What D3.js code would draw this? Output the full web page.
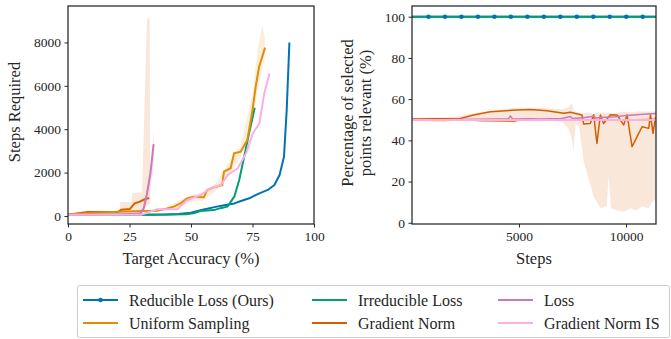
<!DOCTYPE html>
<html>
<head>
<meta charset="utf-8">
<script src="https://cdn.jsdelivr.net/npm/d3@7"></script>
<style>
  body { margin: 0; background: #fff; }
</style>
</head>
<body>
<script>
const width = 671, height = 339;
const serif = '"Liberation Serif", "Times New Roman", Tinos, serif';

// ---- left panel: steps required to reach a target accuracy ----
const reducibleAcc   = [0, 10, 20, 30, 40, 45, 49.9, 55.2, 60, 63, 67.6, 70, 73.7, 77.8, 81.2, 83.9, 86, 87.8, 88.9, 90];
const reducibleSteps = [60, 60, 60, 60, 70, 90, 152, 300, 420, 480, 580, 680, 815, 1045, 1200, 1430, 1890, 2730, 4880, 8000];

const irreducibleAcc   = [0, 10, 20, 30, 40, 48, 51, 53.8, 59.3, 62, 64.8, 67.6, 69.6, 71.6, 73.6, 75.9];
const irreducibleSteps = [60, 60, 60, 60, 70, 80, 120, 230, 270, 360, 430, 890, 1660, 2730, 3810, 4990];

const uniformAcc   = [0, 8, 20, 30, 36.2, 40, 43, 45.7, 48.5, 51.2, 55.2, 56.6, 59.3, 62.7, 63.4, 66.1, 67.5, 70.2, 72.9, 75, 76.3, 77.7, 80.1];
const uniformSteps = [60, 120, 200, 230, 245, 330, 430, 584, 815, 890, 860, 1200, 1320, 1430, 2040, 2200, 2890, 2960, 3500, 4880, 5960, 6880, 7760];

const gradNormAcc   = [0, 8, 20.3, 21.7, 25.1, 27.1, 29.2, 31.2, 33];
const gradNormSteps = [60, 184, 184, 290, 320, 580, 660, 770, 830];
const gradNormBandAcc   = [21, 21.3, 25.8, 26.2, 30.1, 32.1, 33.2, 33.5];
const gradNormBandLow   = [100, 120, 150, 200, 300, 450, 550, 600];
const gradNormBandHigh  = [300, 650, 650, 1070, 1070, 9100, 9100, 800];

const lossAcc   = [0, 10, 20, 29.4, 30.8, 32.1, 33.5, 34.8];
const lossSteps = [60, 60, 60, 123, 350, 1040, 1960, 3310];
const lossBandAcc  = [29.5, 31, 32.5, 34, 35];
const lossBandLow  = [80, 250, 800, 1600, 2600];
const lossBandHigh = [200, 500, 1400, 2600, 4000];

const gnisAcc   = [0, 10, 20, 30, 36.2, 44.4, 48.5, 53.9, 58, 62.1, 64.9, 69, 72.4, 75.1, 77.8, 79.8, 81.9];
const gnisSteps = [60, 60, 60, 60, 307, 307, 737, 967, 1280, 1430, 1890, 2200, 2890, 3810, 4270, 5650, 6570];

const uniformBandAcc  = [40, 45, 50, 55, 60, 65, 70, 75, 77, 79, 80];
const uniformBandLow  = [250, 400, 650, 700, 1150, 1800, 2700, 4300, 5800, 6800, 7300];
const uniformBandHigh = [400, 700, 950, 1100, 1500, 2400, 3200, 5600, 7600, 8800, 8200];

// ---- right panel: percentage of selected points that are relevant ----
const markerSteps = [770, 1540, 2310, 3080, 3850, 4620, 5390, 6160, 6930, 7700, 8470, 9240, 10010, 10780];
const fullSteps = [0, 11400];
const fullPct   = [100, 100];

const uniformRStep = [0, 1500, 2500, 3200, 4800, 5000, 6000, 7000, 8000, 9000, 10000, 11400];
const uniformRPct  = [49.8, 49.6, 50.0, 49.5, 49.2, 49.9, 49.7, 50.0, 49.8, 50.0, 49.9, 50.2];

const lossRStep = [0, 1000, 2000, 3000, 4000, 4500, 4600, 4700, 5500, 6000, 7000, 7400, 7500, 8000, 8500, 8600, 9000, 9500, 10000, 10500, 11000, 11400];
const lossRPct  = [50.0, 49.7, 50.1, 50.2, 50.3, 50.4, 51.8, 50.3, 50.5, 50.4, 50.6, 51.6, 50.6, 51.0, 51.7, 50.8, 51.2, 51.5, 52.0, 52.4, 52.8, 53.0];

const gnisRStep = [0, 11400];
const gnisRPct  = [49.9, 49.9];

const gnRStep = [0, 2260, 2880, 3660, 4900, 5530, 6310, 7090, 7400, 7940, 8020, 8330, 8490, 8640, 8800, 8950, 9270, 9580, 9890, 10050, 10280, 10510, 10750, 11060, 11140, 11260, 11370, 11400];
const gnRPct  = [50.3, 50.6, 52.3, 53.9, 54.7, 55.0, 54.4, 53.1, 53.6, 52.3, 47.9, 48.2, 52.4, 38.5, 52.3, 48.2, 52.4, 52.3, 47.5, 52.3, 36.9, 41.7, 46.6, 45.8, 52.4, 43.4, 50.8, 50.0];
const gnBandStep = [0, 2000, 3000, 5000, 6500, 7000, 7300, 7480, 7540, 7650, 7800, 8020, 8180, 8490, 8800, 9100, 9190, 9300, 9600, 9900, 10200, 10500, 10750, 11050, 11290, 11400];
const gnBandLow  = [49.5, 49.5, 49.5, 49.5, 49.5, 49, 46, 40, 34.5, 48, 47, 30, 24, 12.6, 7, 8, 23, 7, 6, 5.5, 7, 6, 8, 7, 11, 10];
const gnBandHigh = [51, 51.5, 53.5, 56, 55.5, 55, 56, 58, 55, 54, 53.5, 53, 53.5, 53, 53.5, 53, 53.5, 53, 53.5, 54, 53.5, 54, 54, 54, 54, 54];

const colors = {
  reducible: "#0173b2",
  uniform: "#de8f05",
  irreducible: "#029e73",
  gradNorm: "#d55e00",
  loss: "#cc78bc",
  gnis: "#fbafe4"
};

const svg = d3.select("body").append("svg")
  .attr("width", width)
  .attr("height", height)
  .style("font-family", serif);

const frameColor = "#262626";

function drawFrame(g, x0, y0, w, h) {
  g.append("rect")
    .attr("x", x0).attr("y", y0).attr("width", w).attr("height", h)
    .attr("fill", "none").attr("stroke", frameColor).attr("stroke-width", 1.25);
}

function styleAxis(sel) {
  sel.style("font-family", serif).style("font-size", "13.5px");
  sel.selectAll("path").remove();
  sel.selectAll("line").attr("stroke", frameColor).attr("stroke-width", 1);
  sel.selectAll("text").attr("fill", "#262626");
}

// ===== left panel =====
const L = { left: 68, right: 314, top: 6, bottom: 224 };
const xL = d3.scaleLinear().domain([0, 100]).range([L.left, L.right]);
const yL = d3.scaleLinear().domain([-370, 9680]).range([L.bottom, L.top]);

const defs = svg.append("defs");
defs.append("clipPath").attr("id", "clipL").append("rect")
  .attr("x", L.left).attr("y", L.top).attr("width", L.right - L.left).attr("height", L.bottom - L.top);

const gL = svg.append("g").attr("clip-path", "url(#clipL)");

function band(g, xs, lo, hi, xS, yS, color, op) {
  const pts = xs.map((d, i) => ({ x: d, lo: lo[i], hi: hi[i] }));
  g.append("path").datum(pts)
    .attr("d", d3.area().x(d => xS(d.x)).y0(d => yS(d.lo)).y1(d => yS(d.hi)))
    .attr("fill", color).attr("opacity", op).attr("stroke", "none");
}
function line(g, xs, ys, xS, yS, color, w) {
  const pts = xs.map((d, i) => [d, ys[i]]);
  g.append("path").datum(pts)
    .attr("d", d3.line().x(d => xS(d[0])).y(d => yS(d[1])))
    .attr("fill", "none").attr("stroke", color).attr("stroke-width", w)
    .attr("stroke-linejoin", "round").attr("stroke-linecap", "butt");
}

band(gL, gradNormBandAcc, gradNormBandLow, gradNormBandHigh, xL, yL, colors.gradNorm, 0.15);
band(gL, lossBandAcc, lossBandLow, lossBandHigh, xL, yL, colors.loss, 0.18);
band(gL, uniformBandAcc, uniformBandLow, uniformBandHigh, xL, yL, colors.uniform, 0.15);

line(gL, gradNormAcc, gradNormSteps, xL, yL, colors.gradNorm, 2);
line(gL, reducibleAcc, reducibleSteps, xL, yL, colors.reducible, 2);
line(gL, irreducibleAcc, irreducibleSteps, xL, yL, colors.irreducible, 2);
line(gL, uniformAcc, uniformSteps, xL, yL, colors.uniform, 2);
line(gL, lossAcc, lossSteps, xL, yL, colors.loss, 2);
line(gL, gnisAcc, gnisSteps, xL, yL, colors.gnis, 2);

svg.append("g").attr("transform", `translate(0,${L.bottom})`)
  .call(d3.axisBottom(xL).tickValues([0, 25, 50, 75, 100]).tickFormat(d3.format("d")).tickSize(3.5).tickPadding(3.5))
  .call(styleAxis);
svg.append("g").attr("transform", `translate(${L.left},0)`)
  .call(d3.axisLeft(yL).tickValues([0, 2000, 4000, 6000, 8000]).tickFormat(d3.format("d")).tickSize(3.5).tickPadding(3.5))
  .call(styleAxis);
drawFrame(svg, L.left, L.top, L.right - L.left, L.bottom - L.top);

svg.append("text").attr("x", (L.left + L.right) / 2).attr("y", 264)
  .attr("text-anchor", "middle").style("font-size", "16.5px").attr("fill", "#262626").text("Target Accuracy (%)");
svg.append("text").attr("transform", `translate(20,${(L.top + L.bottom) / 2 - 3}) rotate(-90)`)
  .attr("text-anchor", "middle").style("font-size", "16.5px").attr("fill", "#262626").text("Steps Required");

// ===== right panel =====
const R = { left: 412, right: 656, top: 6, bottom: 224 };
const xR = d3.scaleLinear().domain([0, 11400]).range([R.left, R.right]);
const yR = d3.scaleLinear().domain([-0.6, 105.2]).range([R.bottom, R.top]);

defs.append("clipPath").attr("id", "clipR").append("rect")
  .attr("x", R.left).attr("y", R.top).attr("width", R.right - R.left).attr("height", R.bottom - R.top);
const gR = svg.append("g").attr("clip-path", "url(#clipR)");

band(gR, gnBandStep, gnBandLow, gnBandHigh, xR, yR, colors.gradNorm, 0.15);

line(gR, fullSteps, fullPct, xR, yR, colors.reducible, 2);
line(gR, uniformRStep, uniformRPct, xR, yR, colors.uniform, 1.5);
line(gR, gnRStep, gnRPct, xR, yR, colors.gradNorm, 1.5);
line(gR, lossRStep, lossRPct, xR, yR, colors.loss, 1.5);
line(gR, gnisRStep, gnisRPct, xR, yR, colors.gnis, 2);
line(gR, fullSteps, fullPct, xR, yR, colors.irreducible, 2);

gR.selectAll(".mk").data(markerSteps).enter().append("circle")
  .attr("cx", d => xR(d)).attr("cy", yR(100)).attr("r", 2.3)
  .attr("fill", colors.reducible);

svg.append("g").attr("transform", `translate(0,${R.bottom})`)
  .call(d3.axisBottom(xR).tickValues([5000, 10000]).tickFormat(d3.format("d")).tickSize(3.5).tickPadding(3.5))
  .call(styleAxis);
svg.append("g").attr("transform", `translate(${R.left},0)`)
  .call(d3.axisLeft(yR).tickValues([0, 20, 40, 60, 80, 100]).tickFormat(d3.format("d")).tickSize(3.5).tickPadding(3.5))
  .call(styleAxis);
drawFrame(svg, R.left, R.top, R.right - R.left, R.bottom - R.top);

svg.append("text").attr("x", (R.left + R.right) / 2).attr("y", 264)
  .attr("text-anchor", "middle").style("font-size", "16.5px").attr("fill", "#262626").text("Steps");
const yLab = svg.append("text").attr("transform", `translate(0,${(R.top + R.bottom) / 2 - 2}) rotate(-90)`)
  .attr("text-anchor", "middle").style("font-size", "16.5px").attr("fill", "#262626");
yLab.append("tspan").attr("x", 0).attr("y", 353).text("Percentage of selected");
yLab.append("tspan").attr("x", 0).attr("y", 371).text("points relevant (%)");

// ===== legend =====
const legendItems = [
  { name: "Reducible Loss (Ours)", color: colors.reducible, marker: true, col: 0, row: 0 },
  { name: "Uniform Sampling", color: colors.uniform, col: 0, row: 1 },
  { name: "Irreducible Loss", color: colors.irreducible, col: 1, row: 0 },
  { name: "Gradient Norm", color: colors.gradNorm, col: 1, row: 1 },
  { name: "Loss", color: colors.loss, col: 2, row: 0 },
  { name: "Gradient Norm IS", color: colors.gnis, col: 2, row: 1 }
];
const colX = [83, 312, 498];
const rowY = [300, 323];

svg.append("rect").attr("x", 77.5).attr("y", 285.5).attr("width", 592).attr("height", 52)
  .attr("rx", 2).attr("fill", "#fff").attr("stroke", "#cccccc").attr("stroke-width", 1);

const lg = svg.selectAll(".leg").data(legendItems).enter().append("g")
  .attr("transform", d => `translate(${colX[d.col]},${rowY[d.row]})`);
lg.append("line").attr("x1", 0).attr("x2", 35).attr("y1", 0).attr("y2", 0)
  .attr("stroke", d => d.color).attr("stroke-width", 2);
lg.filter(d => d.marker).append("circle").attr("cx", 17.5).attr("cy", 0).attr("r", 2.3)
  .attr("fill", d => d.color);
lg.append("text").attr("x", 46).attr("y", 5.5).style("font-size", "16px").attr("fill", "#262626").text(d => d.name);
</script>
</body>
</html>
